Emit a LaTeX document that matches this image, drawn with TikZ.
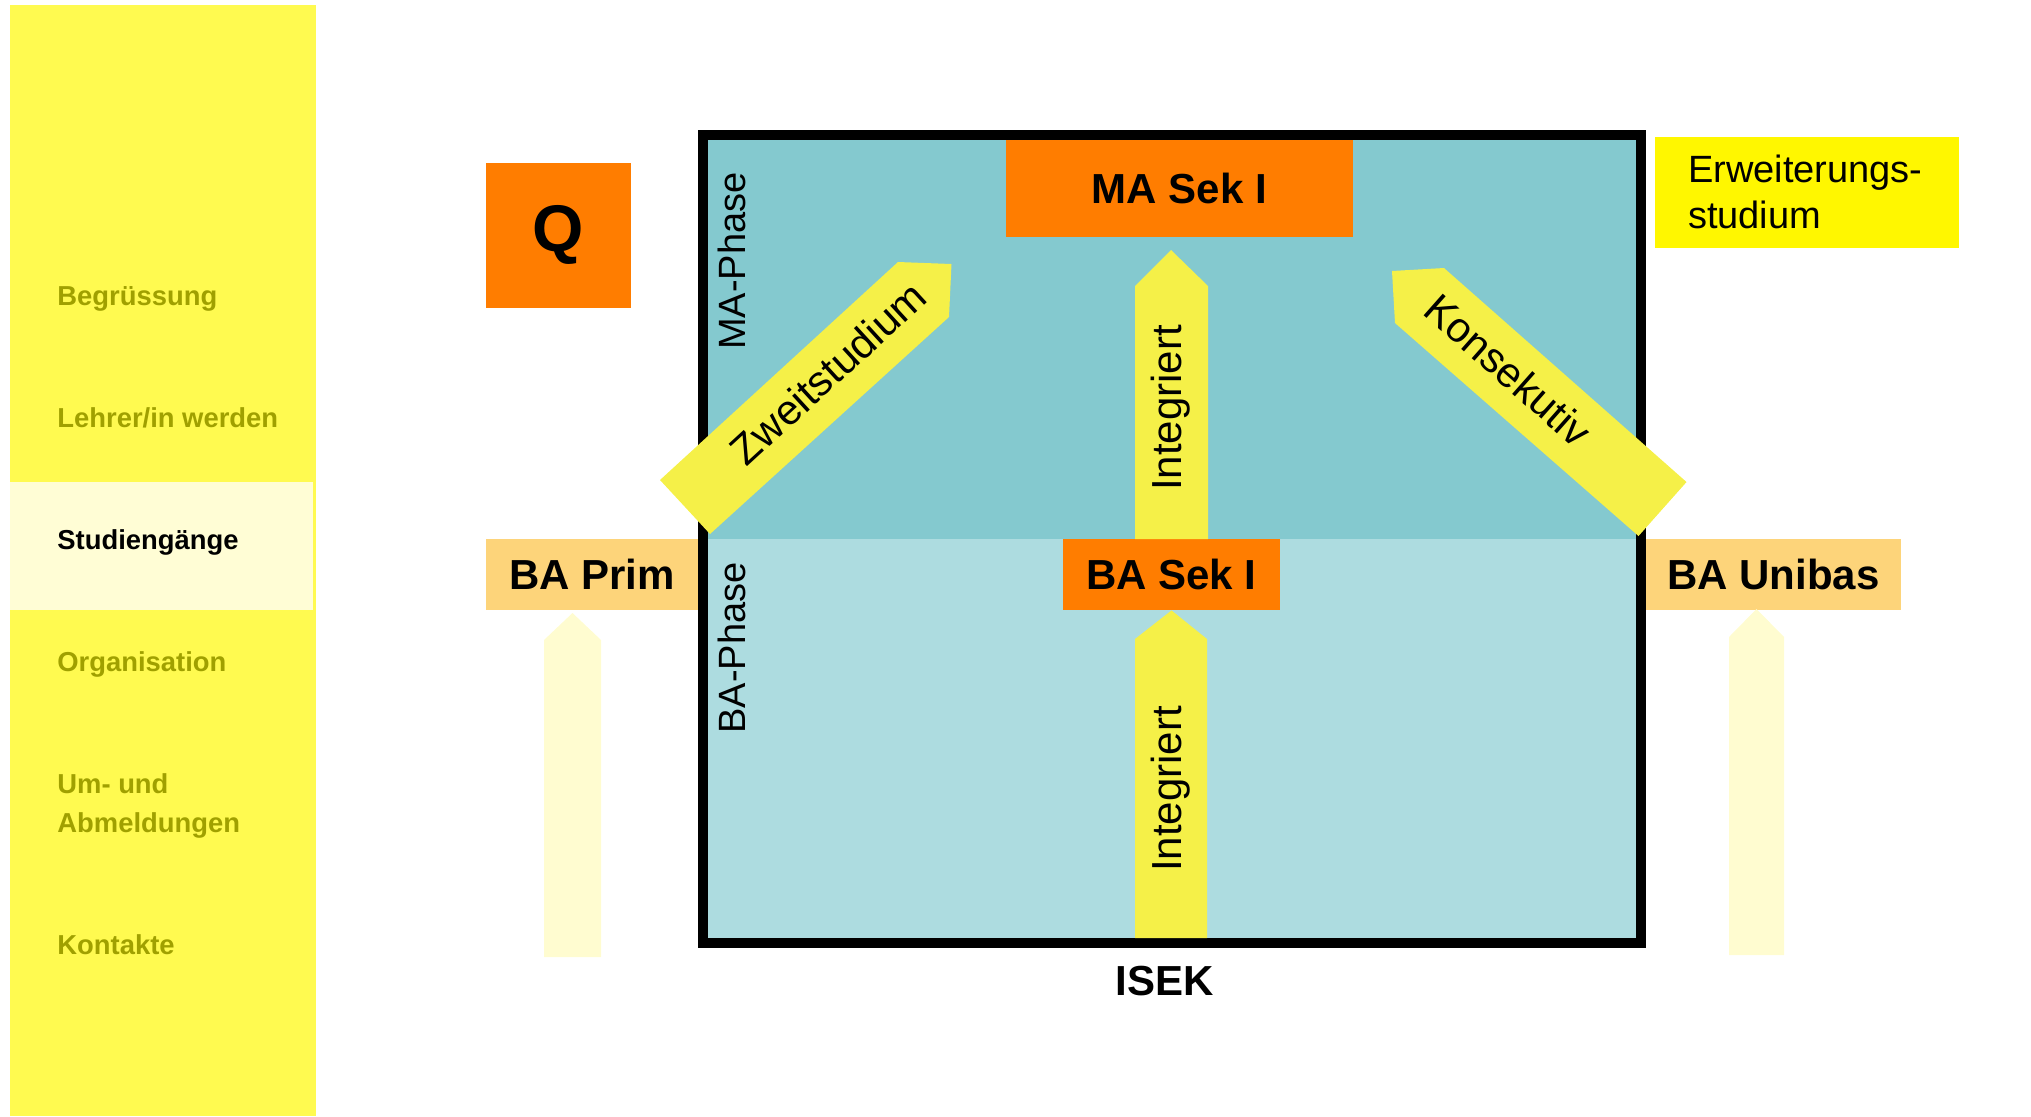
\documentclass[tikz,border=0pt]{standalone}
\usepackage{fontspec}
\setmainfont{Liberation Sans}

\definecolor{menuyellow}{RGB}{255,250,80}
\definecolor{menuactive}{RGB}{255,253,213}
\definecolor{menutext}{RGB}{160,160,0}
\definecolor{maphase}{RGB}{132,201,207}
\definecolor{baphase}{RGB}{173,220,224}
\definecolor{sekorange}{RGB}{255,125,0}
\definecolor{balight}{RGB}{253,212,122}
\definecolor{arrowyellow}{RGB}{245,240,72}
\definecolor{paleyellow}{RGB}{255,252,208}
\definecolor{erwyellow}{RGB}{255,247,0}

\tikzset{
  menu/.style={anchor=base west,inner sep=0pt,text=menutext,
    font=\fontsize{13.7}{19.5}\selectfont\bfseries},
  box/.style={shape=rectangle,inner sep=0pt,
    font=\fontsize{21}{25}\selectfont\bfseries},
  phasetext/.style={inner sep=0pt,rotate=90,anchor=base,
    font=\fontsize{19}{22}\selectfont},
  arrowtext/.style={inner sep=0pt,font=\fontsize{21}{25}\selectfont},
  bigarrow/.style={fill=arrowyellow},
  palearrow/.style={fill=paleyellow}
}

\begin{document}
\begin{tikzpicture}[x=0.5pt,y=-0.5pt]
   \useasboundingbox (0,0) rectangle (2031,1116);
   % menu
   \fill[menuyellow] (10,5) rectangle (316,1116);
   \fill[menuactive] (10,482) rectangle (313,610);
   \path (57,305) node[menu] (Mgruss) {Begrüssung};
   \path (57,427) node[menu] (Mlehrer) {Lehrer/in werden};
   \path (57,549) node[menu,text=black] (Mstudium) {Studiengänge};
   \path (57,671) node[menu] (Morga) {Organisation};
   \path (57,832) node[menu,align=left] (Mabmeld) {Um- und\\Abmeldungen};
   \path (57,954) node[menu] (Mkontakt) {Kontakte};
   % ISEK
   \fill[maphase] (707,140) rectangle (1637,539);
   \fill[baphase] (707,539) rectangle (1637,938);
   \draw[line width=5pt] (703,135) rectangle (1641,943);
   \path (1165,995) node[box,anchor=base] (ISEK) {ISEK};
   \path (745,261) node[phasetext] (MAph) {MA-Phase};
   \path (745,648) node[phasetext] (BAph) {BA-Phase};
   \path (1179.5,188.5) node[box,fill=sekorange,minimum width=173.5pt,minimum height=48.5pt] (MAsek) {MA Sek I};
   \path (1171.5,574.5) node[box,fill=sekorange,minimum width=108.5pt,minimum height=35.5pt] (BAsek) {BA Sek I};
   \path (592,574.5) node[box,fill=balight,minimum width=106pt,minimum height=35.5pt] (BAprim) {BA Prim};
   \path (1773.5,574.5) node[box,fill=balight,minimum width=127.5pt,minimum height=35.5pt] (BAuni) {BA Unibas};
   \path (558.5,235.5) node[box,fill=sekorange,minimum width=72.5pt,minimum height=72.5pt,
     text height=15.6pt,text depth=0pt,font=\fontsize{33}{36}\selectfont\bfseries] (Q) {Q};
   \path (1807,192) node[box,fill=erwyellow,minimum width=152pt,minimum height=55.5pt,
     text width=119pt,align=left,font=\fontsize{19}{22.8}\selectfont] (Erw) {Erweiterungs-\\studium};
   % arrows
   \fill[bigarrow] (660,480) -- (898,262) -- (951.5,264) -- (949,317) -- (710,534) -- cycle;
   \fill[bigarrow] (1444,268) -- (1686.5,482) -- (1638.5,536) -- (1395,323) -- (1392,271) -- cycle;
   \fill[bigarrow] (1135,539) -- (1135,286) -- (1171,250) -- (1208,286) -- (1208,539) -- cycle;
   \fill[bigarrow] (1135,938) -- (1135,639) -- (BAsek.south) -- (1207,639) -- (1207,938) -- cycle;
   \fill[palearrow] (544,957) -- (544,640) -- (572.5,613) -- (601,640) -- (601,957) -- cycle;
   \fill[palearrow] (1729,955) -- (1729,637) -- (1756.5,609) -- (1784,637) -- (1784,955) -- cycle;
   \path (828,373) node[arrowtext,rotate=42.5] (Zweit) {Zweitstudium};
   \path (1508,370) node[arrowtext,rotate=-41.5] (Konsek) {Konsekutiv};
   \path (1171,408) node[arrowtext,rotate=90] (IntMA) {Integriert};
   \path (1171,789) node[arrowtext,rotate=90] (IntBA) {Integriert};
\end{tikzpicture}
\end{document}
